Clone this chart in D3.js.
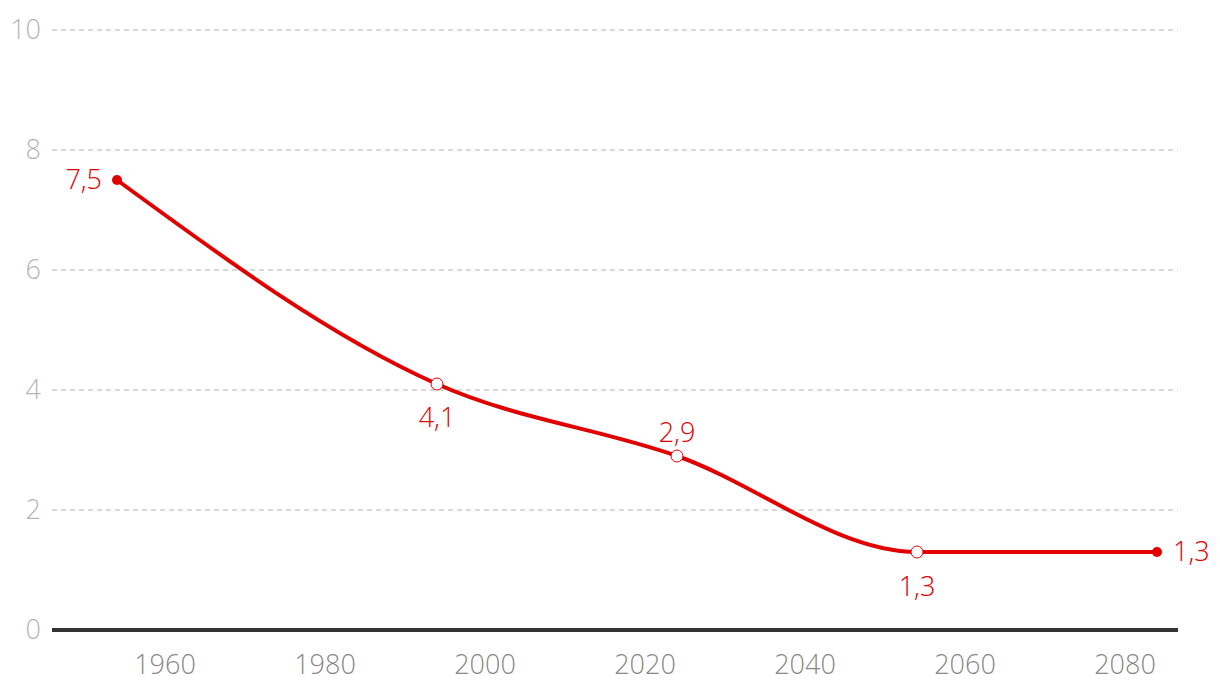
<!DOCTYPE html>
<html>
<head>
<meta charset="utf-8">
<script src="https://cdn.jsdelivr.net/npm/d3@7"></script>
<style>
  body { margin: 0; background: #fff; }
  svg { display: block; font-family: "Open Sans", sans-serif; font-weight: 300; }
  .grid line { stroke: #cccccc; stroke-width: 1.5; stroke-dasharray: 5,4; }
  .y-text { fill: #b5b5b5; font-size: 27px; }
  .x-text { fill: #888888; font-size: 27px; }
  .val-text { fill: #e00000; font-size: 27px; }
</style>
</head>
<body>
<svg class="chart" width="1220" height="696"></svg>
<script>
var years = [1954, 1994, 2024, 2054, 2084];
var values = [7.5, 4.1, 2.9, 1.3, 1.3];
var labels = ['7,5', '4,1', '2,9', '1,3', '1,3'];
var xTicks = [1960, 1980, 2000, 2020, 2040, 2060, 2080];
var yTicks = [0, 2, 4, 6, 8, 10];

(function(){
	var svg = d3.select('.chart');
	var mLeft = 52, mRight = 1178, mTop = 30, mBottom = 630;

	var x = d3.scaleLinear().domain([1945.875, 2086.625]).range([mLeft, mRight]);
	var y = d3.scaleLinear().domain([0, 10]).range([mBottom, mTop]);

	var red = '#e00000';

	// grid
	var grid = svg.append('g').attr('class', 'grid');
	yTicks.filter(function(t){ return t > 0; }).forEach(function(t){
		grid.append('line')
			.attr('x1', mLeft).attr('x2', mRight)
			.attr('y1', y(t)).attr('y2', y(t));
	});

	// y labels
	yTicks.forEach(function(t){
		svg.append('text')
			.attr('class', 'y-text')
			.attr('x', 41)
			.attr('y', y(t))
			.attr('dy', '0.35em')
			.attr('text-anchor', 'end')
			.text(t);
	});

	// x labels
	xTicks.forEach(function(t){
		svg.append('text')
			.attr('class', 'x-text')
			.attr('x', x(t))
			.attr('y', 674)
			.attr('text-anchor', 'middle')
			.text(t);
	});

	// baseline
	svg.append('line')
		.attr('x1', mLeft).attr('x2', mRight)
		.attr('y1', y(0)).attr('y2', y(0))
		.attr('stroke', '#333333').attr('stroke-width', 4);

	var pts = years.map(function(yr, i){ return [yr, values[i]]; });

	var line = d3.line()
		.x(function(d){ return x(d[0]); })
		.y(function(d){ return y(d[1]); })
		.curve(d3.curveMonotoneX);

	svg.append('path')
		.datum(pts)
		.attr('d', line)
		.attr('fill', 'none')
		.attr('stroke', red)
		.attr('stroke-width', 4);

	// markers
	pts.forEach(function(d, i){
		var end = (i === 0 || i === pts.length - 1);
		svg.append('circle')
			.attr('cx', x(d[0])).attr('cy', y(d[1]))
			.attr('r', end ? 5 : 6)
			.attr('fill', end ? red : '#fff')
			.attr('stroke', red)
			.attr('stroke-width', end ? 0 : 1);
	});

	// value labels: placement per point
	var place = [
		{dx: -15, dy: 0, anchor: 'end'},
		{dx: 0, dy: 34, anchor: 'middle'},
		{dx: 0, dy: -23, anchor: 'middle'},
		{dx: 0, dy: 35, anchor: 'middle'},
		{dx: 16, dy: 0, anchor: 'start'}
	];
	pts.forEach(function(d, i){
		var p = place[i];
		svg.append('text')
			.attr('class', 'val-text')
			.attr('x', x(d[0]) + p.dx)
			.attr('y', y(d[1]) + p.dy)
			.attr('dy', '0.35em')
			.attr('text-anchor', p.anchor)
			.text(labels[i]);
	});
})();
</script>
</body>
</html>
